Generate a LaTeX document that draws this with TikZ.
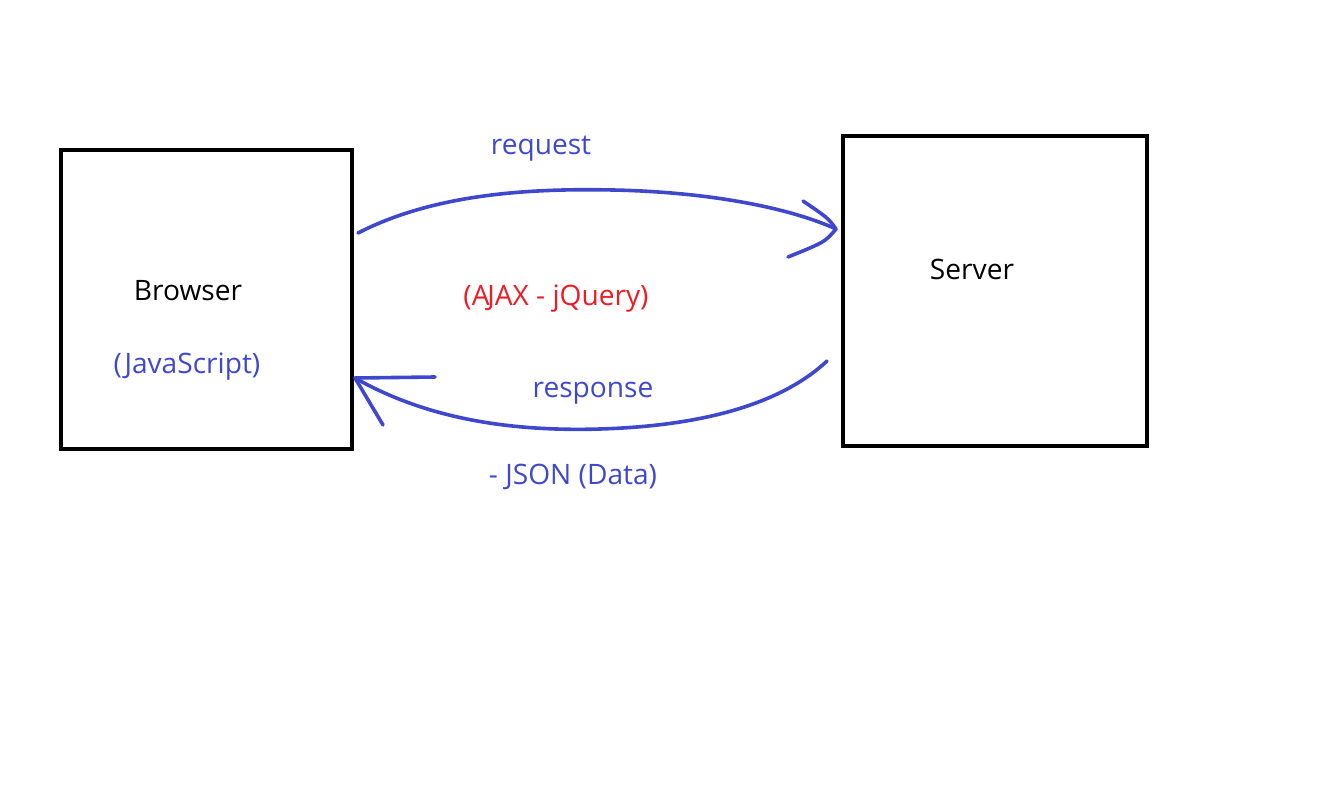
\documentclass[tikz,border=0pt]{standalone}
\usepackage{fontspec}
\setmainfont{Open Sans}
\definecolor{penblue}{RGB}{63,72,204}
\definecolor{penred}{RGB}{237,28,36}
\begin{document}
\begin{tikzpicture}[x=0.025cm,y=-0.025cm,every node/.style={font=\fontsize{20}{24}\selectfont},
  box/.style={draw,line width=0.1cm,inner sep=0pt},
  pen/.style={penblue,line width=0.09cm,line cap=round,line join=round}]
\useasboundingbox (0,0) rectangle (1338,794);
\node[box,minimum width=7.275cm,minimum height=7.475cm] (browser) at (206.5,299.5) {};
\node[box,minimum width=7.6cm,minimum height=7.75cm] (server) at (995,291) {};
\node (browsertxt) at (188,291) {Browser};
\node[penblue] (jstxt) at (187,367) {(JavaScript)};
\node (servertxt) at (972,269) {Server};
\node[penblue] (reqtxt) at (541,149) {request};
\node[penred] (ajaxtxt) at (556,299) {(A\kern-0.08em JAX - jQuery)};
\node[penblue] (resptxt) at (593,393) {response};
\node[penblue] (jsontxt) at (573,477) {- JSON (Data)};
% request arrow
\coordinate (reqstart) at (358,233);
\coordinate (reqtip) at (836,229);
\draw[pen] (reqstart) .. controls (430,196) and (520,188) .. (613,190) .. controls (710,192) and (790,208) .. (reqtip);
\draw[pen] (803,201) .. controls (828,218) .. (reqtip) .. controls (825,242) .. (788,257);
% response arrow
\coordinate (respstart) at (827,361);
\coordinate (resptip) at (355,378);
\draw[pen] (respstart) .. controls (780,405) and (700,426) .. (600,429) .. controls (500,432) and (420,415) .. (resptip);
\draw[pen] (435,377) -- (resptip) -- (383,425);
\end{tikzpicture}
\end{document}
